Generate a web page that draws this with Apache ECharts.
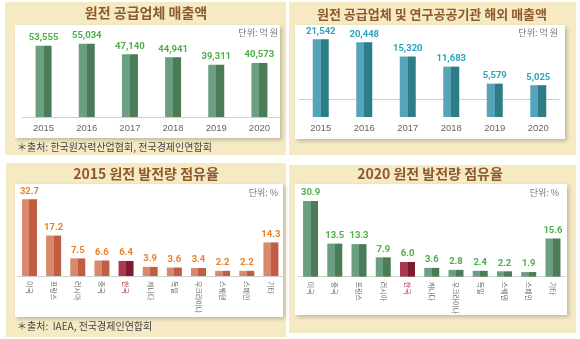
<!DOCTYPE html>
<html>
<head>
<meta charset="utf-8">
<script src="https://cdn.jsdelivr.net/npm/echarts@6/dist/echarts.min.js"></script>
<style>
html,body{margin:0;padding:0;background:#fff;}
#c{width:580px;height:339px;}
</style>
</head>
<body>
<div id="c"></div>
<script>
const years = ['2015','2016','2017','2018','2019','2020'];
const supplierSales = [53555, 55034, 47140, 44941, 39311, 40573];
const overseasSales = [21542, 20448, 15320, 11683, 5579, 5025];
const countries2015 = ['미국','프랑스','러시아','중국','한국','캐나다','독일','우크라이나','스웨덴','스페인','기타'];
const share2015 = [32.7, 17.2, 7.5, 6.6, 6.4, 3.9, 3.6, 3.4, 2.2, 2.2, 14.3];
const countries2020 = ['미국','중국','프랑스','러시아','한국','캐나다','우크라이나','독일','스웨덴','스페인','기타'];
const share2020 = [30.9, 13.5, 13.3, 7.9, 6.0, 3.6, 2.8, 2.4, 2.2, 1.9, 15.6];
const titles = ['원전 공급업체 매출액','원전 공급업체 및 연구공공기관 해외 매출액','2015 원전 발전량 점유율','2020 원전 발전량 점유율'];
const units = ['단위: 억 원','단위: 억 원','단위: %','단위: %'];
const sources = ['＊출처: 한국원자력산업협회, 전국경제인연합회','＊출처:  IAEA, 전국경제인연합회'];
const highlight = '한국';

const KR = '"Noto Sans CJK KR", "Noto Sans", sans-serif';
const NUM = '"Liberation Sans", Arial, sans-serif';

function split(l, d) {
  return {type:'linear', x:0, y:0, x2:1, y2:0,
    colorStops:[{offset:0,color:l},{offset:0.5,color:l},{offset:0.5,color:d},{offset:1,color:d}]};
}
const green = split('#6c9f80', '#4b7c58');
const teal = split('#55a4b9', '#2d7d87');
const orange = split('#d98a6d', '#c15d42');
const crimson = split('#a8394f', '#7b1c31');

function shareData(names, vals, col) {
  return vals.map((v, i) => names[i] === highlight ? {value: v, itemStyle: {color: crimson}} : {value: v, itemStyle: {color: col}});
}

const chart = echarts.init(document.getElementById('c'), null, {renderer: 'canvas'});

function rect(x, y, w, h, fill, shadow) {
  const s = {fill: fill};
  if (shadow) { s.shadowBlur = 4; s.shadowColor = 'rgba(0,0,0,0.22)'; s.shadowOffsetX = 1.5; s.shadowOffsetY = 2; }
  return {type: 'rect', shape: {x: x, y: y, width: w, height: h}, style: s, z: -10, silent: true};
}
function txt(t, x, y, font, fill, align) {
  return {type: 'text', x: x, y: y, z: 10, silent: true,
    style: {text: t, font: font, fill: fill, align: align || 'left', verticalAlign: 'middle', textAlign: align || 'left', textVerticalAlign: 'middle'}};
}

const titleColor = '#8d5a2b';
const graphics = [
  rect(5, 2, 281, 153, '#f6eac5'),
  rect(289, 2, 287, 153, '#f6eac5'),
  rect(6, 163, 280, 174, '#f6eac5'),
  rect(289, 165, 287, 168, '#f6eac5'),
  rect(15, 25, 265, 113, '#ffffff', true),
  rect(295, 25, 270, 114, '#ffffff', true),
  rect(15, 184, 268, 133, '#ffffff', true),
  rect(295, 184, 272, 131, '#ffffff', true),
  txt(titles[0], 146, 13, 'bold 14px ' + KR, titleColor, 'center'),
  txt(titles[1], 432, 14, 'bold 13px ' + KR, titleColor, 'center'),
  txt(titles[2], 146, 174, 'bold 14px ' + KR, titleColor, 'center'),
  txt(titles[3], 430, 174, 'bold 14px ' + KR, titleColor, 'center'),
  txt(units[0], 278, 33, '9px ' + KR, '#777', 'right'),
  txt(units[1], 558, 33, '9px ' + KR, '#777', 'right'),
  txt(units[2], 278, 193, '9px ' + KR, '#777', 'right'),
  txt(units[3], 559, 193, '9px ' + KR, '#777', 'right'),
  txt(sources[0], 17, 147, '10px ' + KR, '#444', 'left'),
  txt(sources[1], 17, 326, '10px ' + KR, '#444', 'left')
];

const axisLine = {show: true, lineStyle: {color: '#cfcfcf', width: 1}};
function yearAxis(idx) {
  return {type: 'category', gridIndex: idx, data: years, axisLine: axisLine, axisTick: {show: false},
    axisLabel: {color: '#666', fontSize: 9.5, fontFamily: NUM, margin: 6}};
}
function countryAxis(idx, names) {
  return {type: 'category', gridIndex: idx, data: names, axisLine: axisLine, axisTick: {show: false},
    axisLabel: {rotate: -90, fontSize: 7, fontFamily: KR, margin: 5, interval: 0,
      color: (v) => v === highlight ? '#b3304f' : '#666'}};
}
function valAxis(idx, min, max, extra) {
  return Object.assign({type: 'value', gridIndex: idx, min: min, max: max, show: false, splitLine: {show: false}}, extra || {});
}
function lbl(color, fmt) {
  return {show: true, position: 'top', distance: 3, color: color, fontWeight: 'bold', fontSize: 9.5,
    fontFamily: '"Roboto", "Noto Sans", sans-serif', formatter: fmt};
}
const thousands = p => Number(p.value).toLocaleString('en-US');
const oneDec = p => Number(p.value).toFixed(1);

chart.setOption({
  animation: false,
  graphic: graphics,
  grid: [
    {left: 22, top: 30, width: 259, height: 87},
    {left: 299, top: 30.1, width: 261, height: 86.9},
    {left: 17.4, top: 182, width: 265.6, height: 94},
    {left: 298.4, top: 178.7, width: 266.7, height: 98}
  ],
  xAxis: [yearAxis(0), yearAxis(1), countryAxis(2, countries2015), countryAxis(3, countries2020)],
  yAxis: [
    valAxis(0, 0, 65400),
    valAxis(1, -6400, 24800, {startValue: -6400}),
    valAxis(2, 0, 40),
    valAxis(3, 0, 40)
  ],
  series: [
    {type: 'bar', xAxisIndex: 0, yAxisIndex: 0, data: supplierSales, barWidth: 16,
      itemStyle: {color: green}, label: lbl('#4dae4a', thousands)},
    {type: 'bar', xAxisIndex: 1, yAxisIndex: 1, data: overseasSales, barWidth: 16,
      itemStyle: {color: teal}, label: lbl('#2ea3be', thousands)},
    {type: 'bar', xAxisIndex: 2, yAxisIndex: 2, data: shareData(countries2015, share2015, orange), barWidth: 15,
      label: lbl('#e8812b', oneDec)},
    {type: 'bar', xAxisIndex: 3, yAxisIndex: 3, data: shareData(countries2020, share2020, green), barWidth: 15,
      label: lbl('#4dae4a', oneDec)}
  ]
});
</script>
</body>
</html>
